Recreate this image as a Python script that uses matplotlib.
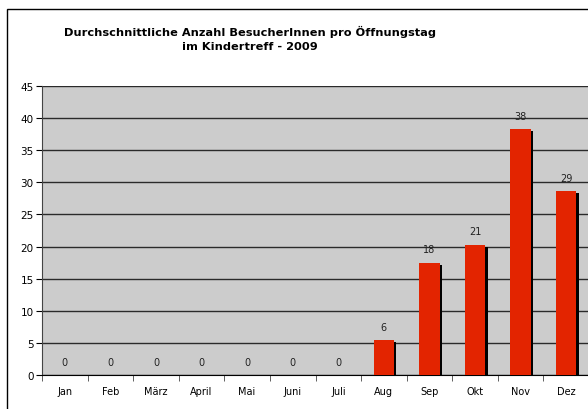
import matplotlib.pyplot as plt
from matplotlib.patches import Rectangle

months = ['Jan', 'Feb', 'März', 'April', 'Mai', 'Juni', 'Juli', 'Aug', 'Sep', 'Okt', 'Nov', 'Dez']
values = [0, 0, 0, 0, 0, 0, 0, 5.4, 17.5, 20.3, 38.3, 28.6]
labels = ['0', '0', '0', '0', '0', '0', '0', '6', '18', '21', '38', '29']


def main():
    fig = plt.figure(figsize=(5.88, 4.10), dpi=100)
    fig.patches.append(Rectangle((7 / 588, -0.1), 1.2, (400 / 410) + 0.1,
                                 transform=fig.transFigure, fill=False,
                                 edgecolor='black', linewidth=1.0))
    ax = fig.add_axes([42 / 588, 34 / 410, 547 / 588, 289 / 410])
    ax.set_facecolor('#cccccc')

    x = list(range(len(months)))
    # shadow behind bars
    ax.bar([i + 0.05 for i in x], [max(v - 0.3, 0) for v in values], width=0.45,
           color='black', zorder=2)
    ax.bar(x, values, width=0.45, color='#e32400', zorder=3)
    for i, v in enumerate(values):
        ax.annotate(labels[i], (i, v), xytext=(0, 6), textcoords='offset points',
                    ha='center', va='bottom', fontsize=7, color='#222222')

    ax.set_xlim(-0.5, 11.5)
    ax.set_ylim(0, 45)
    ax.set_yticks(range(0, 46, 5))
    ax.yaxis.grid(True, color='#2a2a2a', linewidth=1.0)
    ax.set_axisbelow(True)
    ax.set_xticks(x)
    ax.set_xticklabels(months, fontsize=7)
    ax.set_xticks([i - 0.5 for i in range(13)], minor=True)
    ax.tick_params(axis='x', which='major', length=0, pad=8)
    ax.tick_params(axis='x', which='minor', length=4, color='#444444')
    ax.tick_params(axis='y', labelsize=7.5, length=4, pad=2)
    for s in ['top', 'right']:
        ax.spines[s].set_visible(False)
    ax.spines['left'].set_color('#444444')
    ax.spines['bottom'].set_color('black')

    fig.text(0.425, 0.905, 'Durchschnittliche Anzahl BesucherInnen pro Öffnungstag\nim Kindertreff - 2009',
             ha='center', va='center', fontsize=8.2, fontweight='bold', linespacing=1.45)

    plt.savefig('out.png')


if __name__ == "__main__":
    main()
